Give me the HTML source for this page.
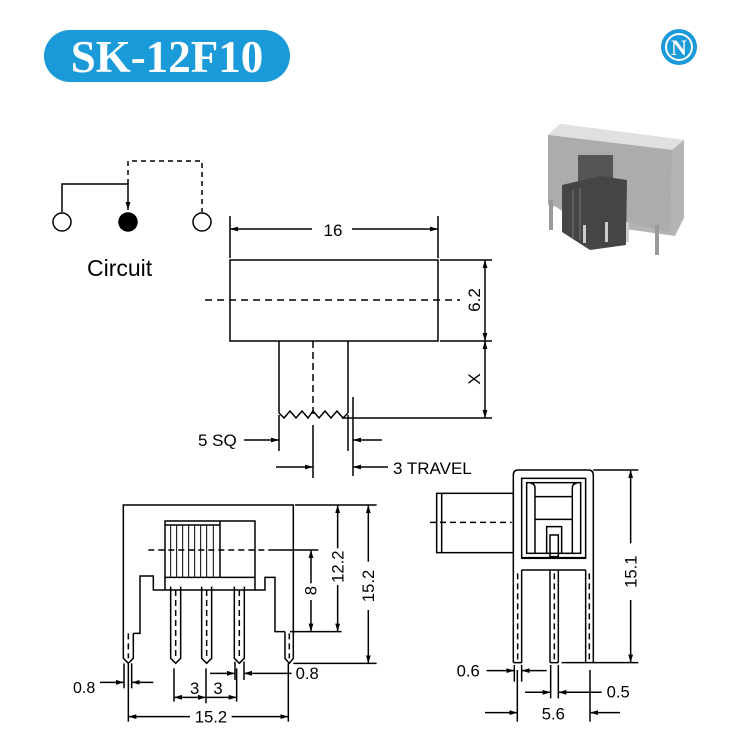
<!DOCTYPE html>
<html><head><meta charset="utf-8"><style>
html,body{margin:0;padding:0;background:#fff;}
svg{display:block;font-family:"Liberation Sans",Arial,sans-serif;}
</style></head><body>
<svg width="735" height="744" viewBox="0 0 735 744" xmlns="http://www.w3.org/2000/svg">
<defs>
<marker id="a" viewBox="0 0 10 10" refX="10" refY="5" markerWidth="8" markerHeight="8" orient="auto-start-reverse" markerUnits="userSpaceOnUse"><path d="M0,2 L10,5 L0,8 z" fill="#000"/></marker>
<marker id="b" viewBox="0 0 10 10" refX="10" refY="5" markerWidth="24" markerHeight="24" orient="auto-start-reverse" markerUnits="userSpaceOnUse"><path d="M0,2 L10,5 L0,8 z" fill="#000"/></marker>
</defs>
<!-- title -->
<rect x="44" y="30" width="246" height="52" rx="26" fill="#1a9ad9"/>
<text x="167" y="72" text-anchor="middle" fill="#fff" font-family="'Liberation Serif',serif" font-weight="bold" font-size="45">SK-12F10</text>
<!-- logo -->
<circle cx="679" cy="47" r="18" fill="#1a9ad9"/>
<circle cx="679" cy="47" r="14" fill="#fff"/>
<circle cx="679" cy="47" r="12" fill="#1a9ad9"/>
<text x="679" y="55" text-anchor="middle" fill="#fff" font-family="'Liberation Serif',serif" font-weight="bold" font-size="22">N</text>
<!-- photo -->
<g>
<polygon points="548,135 560,124 684,140 684,218 675,236 575,222 548,200" fill="#b4b4b4"/>
<polygon points="548,135 560,124 684,140 672,150" fill="#e0e0e0"/>
<polygon points="548,135 672,150 670,232 548,205" fill="#acacac"/>
<rect x="578" y="155" width="35" height="80" fill="#555"/>
<polygon points="562,185 600,176 627,180 626,245 590,250 562,232" fill="#454545"/>
<line x1="573" y1="190" x2="573" y2="238" stroke="#5e5e5e" stroke-width="2"/>
<line x1="580" y1="188" x2="580" y2="240" stroke="#5e5e5e" stroke-width="2"/>
<rect x="549" y="200" width="4" height="30" fill="#999"/>
<rect x="583" y="225" width="3" height="18" fill="#ccc"/>
<rect x="605" y="222" width="3" height="20" fill="#ccc"/>
<rect x="626" y="222" width="3" height="20" fill="#ccc"/>
<rect x="655" y="225" width="4" height="30" fill="#999"/>
</g>
<!-- circuit -->
<g stroke="#000" stroke-width="1.5" fill="none">
<polyline points="62,212 62,184 128,184 128,210" marker-end="url(#a)"/>
<polyline points="128,184 128,161 202,161 202,212" stroke-dasharray="5,4"/>
<circle cx="62" cy="222" r="9"/>
<circle cx="128" cy="222" r="9" fill="#000"/>
<circle cx="202" cy="222" r="9"/>
</g>
<text x="87" y="276" font-size="23">Circuit</text>
<!-- top view -->
<g stroke="#000" stroke-width="1.5" fill="none">
<rect x="230" y="260" width="208" height="81"/>
<line x1="205" y1="300" x2="460" y2="300" stroke-dasharray="7,5"/>
<line x1="230" y1="216" x2="230" y2="258"/><line x1="438" y1="216" x2="438" y2="258"/>
<line x1="230" y1="229" x2="312" y2="229" marker-start="url(#a)"/>
<line x1="352" y1="229" x2="438" y2="229" marker-end="url(#a)"/>
<line x1="440" y1="260" x2="492" y2="260"/><line x1="440" y1="341" x2="492" y2="341"/>
<line x1="485" y1="260" x2="485" y2="341" marker-start="url(#a)" marker-end="url(#a)"/>
<line x1="485" y1="341" x2="485" y2="418" marker-start="url(#a)" marker-end="url(#a)"/>
<line x1="279" y1="341" x2="279" y2="413"/><line x1="348" y1="341" x2="348" y2="413"/>
<polyline points="279,413 284,418 290,411 296,418 302,411 308,418 313,411 319,418 325,411 331,418 337,411 343,418 348,413"/>
<line x1="313" y1="341" x2="313" y2="415" stroke-dasharray="7,4"/>
<line x1="342" y1="418" x2="492" y2="418"/>
<line x1="279" y1="415" x2="279" y2="451"/><line x1="348" y1="415" x2="348" y2="451"/>
<line x1="353" y1="397" x2="353" y2="476"/>
<line x1="313" y1="425" x2="313" y2="478"/>
<line x1="244" y1="440" x2="279" y2="440" marker-end="url(#a)"/>
<line x1="382" y1="440" x2="353" y2="440" marker-end="url(#a)"/>
<line x1="276" y1="467" x2="313" y2="467" marker-end="url(#a)"/>
<line x1="388" y1="467" x2="353" y2="467" marker-end="url(#a)"/>
</g>
<g font-size="17">
<text x="333" y="236" text-anchor="middle">16</text>
<text x="198" y="446">5 SQ</text>
<text x="393" y="474">3 TRAVEL</text>
<text transform="translate(480,300) rotate(-90)" text-anchor="middle">6.2</text>
<text transform="translate(480,379) rotate(-90)" text-anchor="middle">X</text>
</g>
<!-- bottom-left front view (zoomed coords) -->
<g transform="translate(100,490) scale(0.3333)">
<g stroke="#000" stroke-width="4.5" fill="none">
<polyline points="70,430 70,45 580,45 580,430"/>
<polyline points="100,430 120,430 120,258 160,258 160,300 195,300"/>
<polyline points="465,300 495,300 495,262 525,262 525,425 555,425"/>
<rect x="195" y="93" width="270" height="207"/>
<line x1="195" y1="262" x2="465" y2="262"/>
<line x1="195" y1="105" x2="360" y2="105"/>
<line x1="360" y1="93" x2="360" y2="262"/>
<g stroke-width="3">
<line x1="212" y1="105" x2="212" y2="262"/><line x1="230" y1="105" x2="230" y2="262"/>
<line x1="248" y1="105" x2="248" y2="262"/><line x1="266" y1="105" x2="266" y2="262"/>
<line x1="284" y1="105" x2="284" y2="262"/><line x1="302" y1="105" x2="302" y2="262"/>
<line x1="320" y1="105" x2="320" y2="262"/><line x1="340" y1="105" x2="340" y2="262"/>
</g>
<path d="M70,430 V505 L85,520 L100,505 V430"/>
<path d="M555,425 V505 L568,520 L580,505 V425"/>
<path d="M212,290 V505 L227,520 L242,505 V290"/>
<path d="M305,290 V505 L320,520 L335,505 V290"/>
<path d="M403,290 V505 L418,520 L433,505 V290"/>
<g stroke-dasharray="18,12">
<line x1="85" y1="430" x2="85" y2="505"/><line x1="568" y1="430" x2="568" y2="505"/>
<line x1="227" y1="300" x2="227" y2="505"/><line x1="320" y1="300" x2="320" y2="505"/><line x1="418" y1="300" x2="418" y2="505"/>
<line x1="145" y1="180" x2="520" y2="180"/>
</g>
<line x1="520" y1="180" x2="655" y2="180"/>
<line x1="633" y1="180" x2="633" y2="280" marker-start="url(#b)"/>
<line x1="633" y1="330" x2="633" y2="425" marker-end="url(#b)"/>
<line x1="570" y1="425" x2="725" y2="425"/>
<line x1="713" y1="45" x2="713" y2="175" marker-start="url(#b)"/>
<line x1="713" y1="285" x2="713" y2="425" marker-end="url(#b)"/>
<line x1="585" y1="45" x2="830" y2="45"/><line x1="580" y1="520" x2="830" y2="520"/>
<line x1="805" y1="45" x2="805" y2="215" marker-start="url(#b)"/>
<line x1="805" y1="360" x2="805" y2="520" marker-end="url(#b)"/>
<line x1="72" y1="520" x2="72" y2="595"/><line x1="95" y1="520" x2="95" y2="595"/>
<line x1="0" y1="577" x2="72" y2="577" marker-end="url(#b)"/>
<line x1="160" y1="577" x2="95" y2="577" marker-end="url(#b)"/>
<line x1="405" y1="515" x2="405" y2="570"/><line x1="432" y1="515" x2="432" y2="570"/>
<line x1="330" y1="550" x2="405" y2="550" marker-end="url(#b)"/>
<line x1="575" y1="550" x2="432" y2="550" marker-end="url(#b)"/>
<line x1="222" y1="535" x2="222" y2="635"/><line x1="318" y1="535" x2="318" y2="640"/><line x1="410" y1="535" x2="410" y2="635"/>
<line x1="222" y1="622" x2="318" y2="622" marker-start="url(#b)" marker-end="url(#b)"/>
<line x1="318" y1="622" x2="410" y2="622" marker-end="url(#b)"/>
<line x1="85" y1="520" x2="85" y2="695"/><line x1="565" y1="520" x2="565" y2="695"/>
<line x1="85" y1="680" x2="270" y2="680" marker-start="url(#b)"/>
<line x1="395" y1="680" x2="565" y2="680" marker-end="url(#b)"/>
</g>
<g font-size="50">
<text x="587" y="567">0.8</text>
<text x="270" y="612">3</text>
<text x="340" y="612">3</text>
<text x="333" y="698" text-anchor="middle">15.2</text>
<text transform="translate(650,302) rotate(-90)" text-anchor="middle">8</text>
<text transform="translate(730,230) rotate(-90)" text-anchor="middle">12.2</text>
<text transform="translate(822,288) rotate(-90)" text-anchor="middle">15.2</text>
</g>
</g>
<text x="73" y="693" font-size="16">0.8</text>
<!-- bottom-right side view -->
<g transform="translate(420,460) scale(0.3333)">
<g stroke="#000" stroke-width="4.5" fill="none">
<rect x="50" y="100" width="230" height="178"/>
<line x1="65" y1="100" x2="65" y2="278"/>
<line x1="30" y1="187" x2="275" y2="187" stroke-dasharray="18,12"/>
<path d="M280,608 V45 Q280,30 295,30 H505 Q520,30 520,45 V608"/>
<rect x="305" y="55" width="192" height="240"/>
<rect x="320" y="68" width="162" height="212"/>
<line x1="305" y1="293" x2="497" y2="293"/>
<line x1="305" y1="330" x2="497" y2="330"/>
<path d="M345,280 V85 Q345,70 332,70"/>
<path d="M457,280 V85 Q457,70 470,70"/>
<path d="M345,178 H457 M345,110 H457"/>
<path d="M380,280 V200 H425 V280"/>
<rect x="390" y="225" width="25" height="65"/>
<line x1="305" y1="330" x2="305" y2="608"/>
<line x1="390" y1="330" x2="390" y2="608"/><line x1="415" y1="330" x2="415" y2="608"/>
<line x1="497" y1="330" x2="497" y2="608"/>
<line x1="280" y1="608" x2="305" y2="608"/><line x1="390" y1="608" x2="415" y2="608"/>
<g stroke-dasharray="18,12">
<line x1="293" y1="340" x2="293" y2="600"/><line x1="403" y1="340" x2="403" y2="600"/><line x1="508" y1="340" x2="508" y2="600"/>
</g>
<line x1="520" y1="30" x2="655" y2="30"/><line x1="425" y1="608" x2="655" y2="608"/>
<line x1="632" y1="30" x2="632" y2="250" marker-start="url(#b)"/>
<line x1="632" y1="420" x2="632" y2="608" marker-end="url(#b)"/>
<line x1="283" y1="615" x2="283" y2="665"/><line x1="305" y1="615" x2="305" y2="665"/>
<line x1="200" y1="632" x2="283" y2="632" marker-end="url(#b)"/>
<line x1="380" y1="632" x2="305" y2="632" marker-end="url(#b)"/>
<line x1="392" y1="615" x2="392" y2="715"/><line x1="415" y1="615" x2="415" y2="715"/>
<line x1="315" y1="697" x2="392" y2="697" marker-end="url(#b)"/>
<line x1="545" y1="697" x2="415" y2="697" marker-end="url(#b)"/>
<line x1="292" y1="630" x2="292" y2="785"/><line x1="510" y1="630" x2="510" y2="785"/>
<line x1="195" y1="758" x2="292" y2="758" marker-end="url(#b)"/>
<line x1="600" y1="758" x2="510" y2="758" marker-end="url(#b)"/>
</g>
<g font-size="50">
<text x="110" y="650">0.6</text>
<text x="560" y="712">0.5</text>
<text x="400" y="778" text-anchor="middle">5.6</text>
<text transform="translate(650,335) rotate(-90)" text-anchor="middle">15.1</text>
</g>
</g>
</svg>
</body></html>
